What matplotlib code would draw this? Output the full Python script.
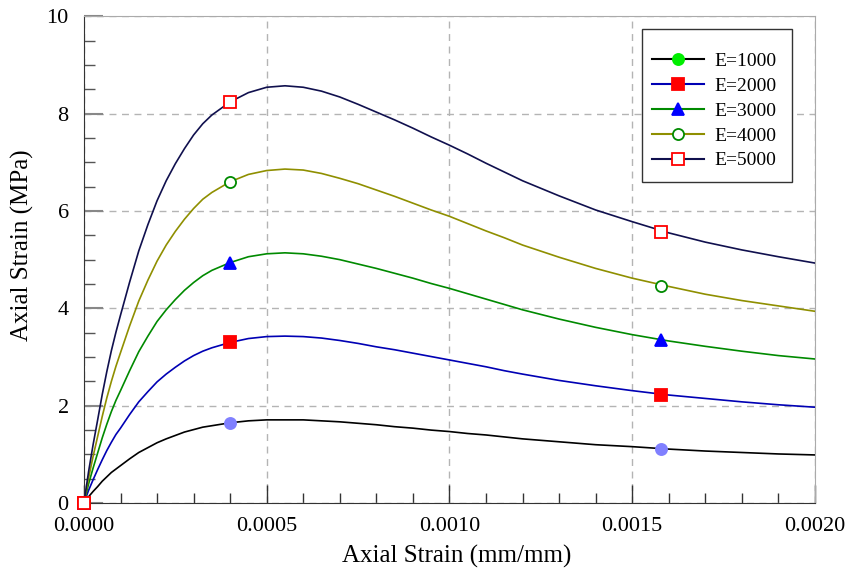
import matplotlib
matplotlib.use("Agg")
import matplotlib.pyplot as plt
from matplotlib.lines import Line2D
from matplotlib.patches import Rectangle
from matplotlib.ticker import MultipleLocator, FormatStrFormatter

plt.rcParams['font.family'] = ['Liberation Serif', 'DejaVu Serif']

# strain points (mm/mm)
strain = [0, 0.0000125, 0.000025, 0.0000375, 0.00005, 0.0000625, 0.000075,
          0.0000875, 0.0001, 0.000125, 0.00015, 0.000175, 0.0002, 0.000225,
          0.00025, 0.000275, 0.0003, 0.000325, 0.00035, 0.0004, 0.00045,
          0.0005, 0.00055, 0.0006, 0.00065, 0.0007, 0.00075, 0.0008, 0.00085,
          0.0009, 0.00095, 0.0010, 0.00105, 0.0011, 0.00115, 0.0012, 0.0013,
          0.0014, 0.0015, 0.0016, 0.0017, 0.0018, 0.0019, 0.0020]

# stress (MPa) for each modulus
s_1000 = [0, 0.13, 0.24, 0.34, 0.45, 0.54, 0.63, 0.70, 0.77, 0.91, 1.04, 1.14,
          1.24, 1.32, 1.39, 1.46, 1.51, 1.56, 1.59, 1.65, 1.69, 1.71, 1.71,
          1.71, 1.69, 1.67, 1.64, 1.61, 1.57, 1.54, 1.50, 1.47, 1.43, 1.40,
          1.36, 1.32, 1.26, 1.20, 1.16, 1.11, 1.07, 1.04, 1.01, 0.99]
s_2000 = [0, 0.26, 0.48, 0.69, 0.89, 1.08, 1.25, 1.41, 1.54, 1.82, 2.08, 2.29,
          2.49, 2.65, 2.79, 2.92, 3.03, 3.12, 3.19, 3.30, 3.38, 3.42, 3.43,
          3.42, 3.39, 3.34, 3.28, 3.21, 3.15, 3.08, 3.01, 2.94, 2.87, 2.80,
          2.72, 2.65, 2.52, 2.41, 2.31, 2.22, 2.15, 2.08, 2.02, 1.97]
s_3000 = [0, 0.39, 0.72, 1.03, 1.34, 1.62, 1.88, 2.11, 2.31, 2.72, 3.11, 3.43,
          3.73, 3.97, 4.18, 4.37, 4.53, 4.67, 4.78, 4.94, 5.06, 5.12, 5.14,
          5.12, 5.07, 5.00, 4.91, 4.82, 4.72, 4.62, 4.51, 4.41, 4.30, 4.19,
          4.08, 3.97, 3.78, 3.61, 3.46, 3.33, 3.22, 3.12, 3.03, 2.96]
s_4000 = [0, 0.51, 0.96, 1.37, 1.78, 2.16, 2.50, 2.81, 3.09, 3.64, 4.15, 4.58,
          4.97, 5.30, 5.58, 5.83, 6.05, 6.24, 6.38, 6.60, 6.75, 6.83, 6.86,
          6.84, 6.77, 6.67, 6.56, 6.43, 6.30, 6.16, 6.02, 5.89, 5.74, 5.59,
          5.45, 5.30, 5.05, 4.82, 4.62, 4.45, 4.29, 4.16, 4.05, 3.94]
s_5000 = [0, 0.64, 1.20, 1.71, 2.23, 2.70, 3.13, 3.51, 3.86, 4.54, 5.18, 5.72,
          6.21, 6.62, 6.97, 7.28, 7.56, 7.79, 7.97, 8.24, 8.43, 8.54, 8.57,
          8.54, 8.46, 8.34, 8.19, 8.03, 7.87, 7.70, 7.52, 7.35, 7.17, 6.98,
          6.80, 6.62, 6.31, 6.02, 5.78, 5.55, 5.36, 5.20, 5.06, 4.93]

# marked points on each curve
mark_strain = [0, 0.0004, 0.00158]
m_1000 = [0, 1.65, 1.11]
m_2000 = [0, 3.30, 2.23]
m_3000 = [0, 4.94, 3.34]
m_4000 = [0, 6.60, 4.46]
m_5000 = [0, 8.24, 5.57]

labels = ['E=1000', 'E=2000', 'E=3000', 'E=4000', 'E=5000']
curves = [s_1000, s_2000, s_3000, s_4000, s_5000]
marks = [m_1000, m_2000, m_3000, m_4000, m_5000]
line_colors = ['#000000', '#0000b4', '#008a00', '#8f8f00', '#10104e']

# (marker, face, edge) used on the curves
mk_plot = [('o', '#8080ff', '#8080ff'), ('s', '#ff0000', '#ff0000'),
           ('^', '#0000ff', '#0000ff'), ('o', 'white', '#008a00'),
           ('s', 'white', '#ff0000')]
# legend uses its own marker colours
mk_leg = [('o', '#00ee00', '#00ee00'), ('s', '#ff0000', '#ff0000'),
          ('^', '#0000ff', '#0000ff'), ('o', 'white', '#008a00'),
          ('s', 'white', '#ff0000')]

fig = plt.figure(figsize=(8.48, 5.77), dpi=100)
ax = fig.add_axes([0.099, 0.128, 0.862, 0.844])

for i in range(5):
    ax.plot(strain, curves[i], color=line_colors[i], lw=1.2, zorder=3)
for i in range(5):
    m, fc, ec = mk_plot[i]
    ax.plot(mark_strain, marks[i], ls='none', marker=m, ms=8.5 if m != 'o' else 8,
            markerfacecolor=fc, markeredgecolor=ec, markeredgewidth=1.3,
            zorder=4, clip_on=False)

ax.set_xlim(0, 0.002)
ax.set_ylim(0, 10)
ax.xaxis.set_major_locator(MultipleLocator(0.0005))
ax.xaxis.set_minor_locator(MultipleLocator(0.0001))
ax.xaxis.set_major_formatter(FormatStrFormatter('%.4f'))
ax.yaxis.set_major_locator(MultipleLocator(2))
ax.yaxis.set_minor_locator(MultipleLocator(0.5))

ax.tick_params(which='both', direction='in', labelsize=16, colors='#333333',
               labelcolor='black')
ax.tick_params(axis='x', which='major', length=13, width=1, pad=10)
ax.tick_params(axis='x', which='minor', length=7, width=1)
ax.tick_params(axis='y', which='major', length=14, width=1.5, colors='#888888',
               labelcolor='black', pad=11)
ax.tick_params(axis='y', which='minor', length=8, width=1, colors='#555555')

ax.grid(True, which='major', ls=(0, (5, 4)), color='#b4b4b4', lw=1)
ax.spines['left'].set_color('#333333')
ax.spines['bottom'].set_color('#333333')
ax.spines['top'].set_color('#aaaaaa')
ax.spines['right'].set_color('#aaaaaa')

ax.set_xlabel('Axial Strain (mm/mm)', fontsize=18)
ax.set_ylabel('Axial Strain (MPa)', fontsize=18)
ax.xaxis.set_label_coords(0.510, -0.086)
ax.yaxis.set_label_coords(-0.068, 0.530)

# legend box drawn separately so the top margin can be taller than the bottom
ax.add_patch(Rectangle((0.7633, 0.659), 0.2052, 0.3143, transform=ax.transAxes,
                       facecolor='white', edgecolor='#333333', lw=1, zorder=5))

handles = []
for i in range(5):
    m, fc, ec = mk_leg[i]
    handles.append(Line2D([], [], color=line_colors[i], lw=1.5, marker=m,
                          ms=8, markerfacecolor=fc,
                          markeredgecolor=ec, markeredgewidth=1.3))
leg = ax.legend(handles, labels, loc='upper left',
                bbox_to_anchor=(0.777, 0.926),
                fontsize=14, frameon=False, handlelength=2.7,
                labelspacing=0.376, borderpad=0, handletextpad=0.5,
                borderaxespad=0)
leg.set_zorder(6)

fig.savefig('out.png', dpi=100)
